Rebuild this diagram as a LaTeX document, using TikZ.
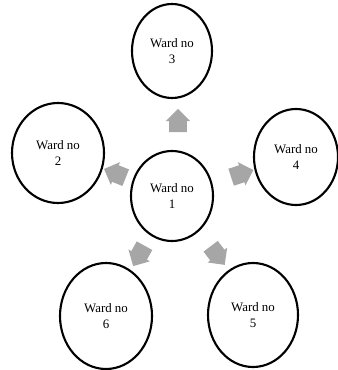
\documentclass[tikz,border=0pt]{standalone}
\usepackage{fontspec}
\setmainfont{Liberation Serif}
\usetikzlibrary{shapes.geometric,shapes.arrows}
\tikzset{ward/.style={shape=ellipse, draw=black, line width=1.8pt, inner sep=0pt, align=center, font=\fontsize{11}{13}\selectfont}}
\tikzset{flow/.style={shape=single arrow, fill=black!35, draw=none, inner xsep=0pt, inner ysep=0.26cm, minimum height=0.7cm, single arrow head extend=0.1cm}}

\begin{document}
\begin{tikzpicture}[x=0.03cm, y=-0.03cm]
  \useasboundingbox (0,0) rectangle (337,370);

  \node (w1) [ward, minimum width=2.46cm, minimum height=2.7cm] at (172,196) {Ward no\\1};
  \node (w3) [ward, minimum width=2.4cm, minimum height=2.82cm, node distance=4.35cm, above of=w1] {Ward no\\3};
  \node (w2) [ward, minimum width=2.76cm, minimum height=3cm] at (58,153) {Ward no\\2};
  \node (w4) [ward, minimum width=2.52cm, minimum height=2.88cm] at (296,157) {Ward no\\4};
  \node (w6) [ward, minimum width=2.76cm, minimum height=3.18cm] at (106,316) {Ward no\\6};
  \node (w5) [ward, minimum width=2.7cm, minimum height=3.12cm] at (253,315) {Ward no\\5};

  % grey arrows pointing out of ward 1
  \node (a3) [flow, rotate=90] at (178,125) {};
  \node (a2) [flow, rotate=158] at (119,175) {};
  \node (a4) [flow, rotate=18] at (238,175) {};
  \node (a6) [flow, rotate=-119] at (141,252) {};
  \node (a5) [flow, rotate=-53] at (215,252) {};
\end{tikzpicture}
\end{document}
